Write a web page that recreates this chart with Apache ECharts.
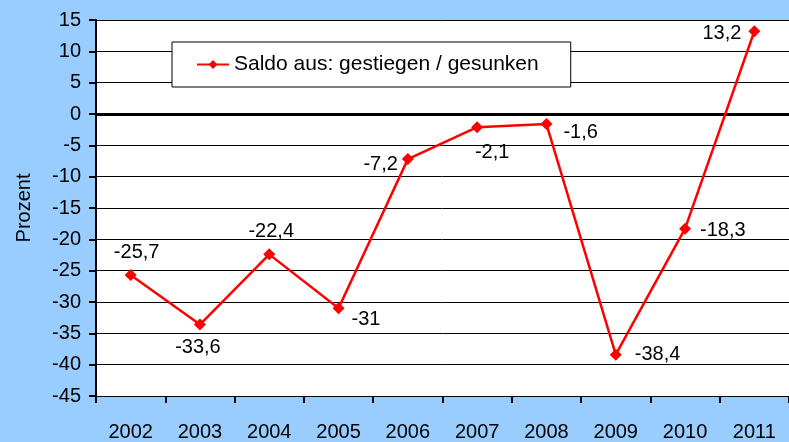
<!DOCTYPE html>
<html>
<head>
<meta charset="utf-8">
<script src="https://cdn.jsdelivr.net/npm/echarts@6/dist/echarts.min.js"></script>
<style>
  html, body { margin: 0; padding: 0; background: #99ccff; }
  #box1 { width: 789px; height: 442px; }
</style>
</head>
<body>
<div id="box1"></div>
<script>
var years = ['2002', '2003', '2004', '2005', '2006', '2007', '2008', '2009', '2010', '2011']
var saldo = [-25.7, -33.6, -22.4, -31, -7.2, -2.1, -1.6, -38.4, -18.3, 13.2]
var yTicks = [-45, -40, -35, -30, -25, -20, -15, -10, -5, 0, 5, 10, 15]

// where each value label sits next to its point
var labelPos = ['top', 'bottom', 'top', 'right', 'left', 'bottom', 'right', 'right', 'right', 'left']
var labelOff = [[6, 0], [-2, 0], [2, 0], [0, 11], [3, 5], [15, 2], [4, 8], [6, 0], [2, 2], [0, 2]]

var font = 'Liberation Sans'

var first = echarts.init(document.getElementById('box1'))
var option = {
    backgroundColor: '#99ccff',
    animation: false,
    textStyle: { fontFamily: font },
    grid: {
        left: 96,
        top: 20,
        right: -7,
        bottom: 46,
        show: true,
        backgroundColor: '#fff',
        borderWidth: 0
    },
    legend: {
        left: 172,
        top: 42,
        padding: [12, 32, 12, 24],
        backgroundColor: '#fff',
        borderColor: '#000',
        borderWidth: 1,
        itemWidth: 32,
        itemHeight: 11,
        itemGap: 6,
        textStyle: { fontFamily: font, fontSize: 21, color: '#000' },
        data: ['Saldo aus: gestiegen / gesunken']
    },
    xAxis: {
        type: 'category',
        data: years,
        boundaryGap: true,
        axisLine: { onZero: false, lineStyle: { color: '#000', width: 1 } },
        axisTick: { show: true, length: 7, lineStyle: { color: '#000', width: 2 } },
        axisLabel: { color: '#000', fontSize: 20, fontFamily: font, margin: 26 }
    },
    yAxis: {
        type: 'value',
        min: yTicks[0],
        max: yTicks[yTicks.length - 1],
        interval: 5,
        name: 'Prozent',
        nameLocation: 'middle',
        nameGap: 62,
        nameTextStyle: { color: '#000', fontSize: 20, fontFamily: font },
        axisLine: { show: true, lineStyle: { color: '#000', width: 2 } },
        axisTick: { show: true, length: 7, lineStyle: { color: '#000', width: 2 } },
        axisLabel: { color: '#000', fontSize: 20, fontFamily: font, margin: 15 },
        splitLine: { lineStyle: { color: '#000', width: 1 } }
    },
    series: [
        {
            name: 'Saldo aus: gestiegen / gesunken',
            type: 'line',
            symbol: 'diamond',
            symbolSize: 12,
            itemStyle: { color: '#ff0000' },
            lineStyle: { color: '#ff0000', width: 2.5 },
            label: {
                show: true,
                color: '#000',
                fontSize: 20,
                fontFamily: font,
                distance: 7,
                formatter: function (p) {
                    return String(p.value).replace('.', ',')
                }
            },
            data: saldo.map(function (v, i) {
                return {
                    value: v,
                    label: { position: labelPos[i], offset: labelOff[i] }
                }
            }),
            markLine: {
                silent: true,
                symbol: 'none',
                label: { show: false },
                lineStyle: { color: '#000', width: 3, type: 'solid' },
                data: [{ yAxis: 0 }]
            },
            z: 5
        }
    ]
}
first.setOption(option)
</script>
</body>
</html>
